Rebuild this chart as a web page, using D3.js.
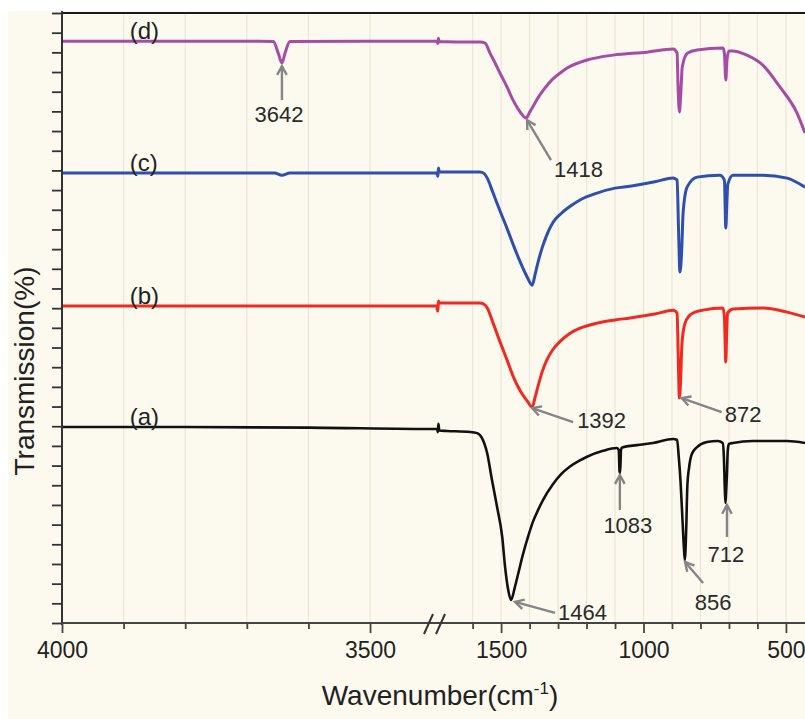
<!DOCTYPE html>
<html><head><meta charset="utf-8">
<script src="https://cdn.jsdelivr.net/npm/d3@7"></script>
<style>
body{margin:0;background:#fff}
svg{display:block}
text{font-family:"Liberation Sans",Arial,sans-serif}
</style>
</head><body>
<svg id="c" width="805" height="719"></svg>
<script>
// ---------- data ----------
const leftDomain = [4000, 3390];
const rightDomain = [1725, 433];
const majorTicksLeft = [4000, 3500];
const minorTicksLeft = [3900, 3800, 3700, 3600];
const majorTicksRight = [1500, 1000, 500];
const minorTicksRight = [1600, 1400, 1300, 1200, 1100, 900, 800, 700, 600];
const yTicks = d3.range(0, 32);

// (a) black
const seriesA = [[4000,9.96],[3800,9.96],[3600,9.93],[3390,9.86],
 [1725,9.86],[1722,9.70],[1720,10.12],[1717,9.78],[1690,9.76],[1609,9.71],[1584,9.65],[1567,9.40],[1549,8.64],[1532,7.27],[1514,5.89],[1496,4.37],[1486,2.85],[1475,1.68],[1465,1.17],[1452,1.80],[1440,2.50],[1423,3.50],[1405,4.40],[1388,5.15],[1370,5.75],[1353,6.25],[1318,7.05],[1290,7.55],[1258,7.95],[1225,8.25],[1198,8.45],[1142,8.75],[1093,8.89],[1087,8.80],[1084,7.70],[1082,7.62],[1079,8.80],[1075,8.92],[1023,9.04],[967,9.15],[896,9.35],[882,9.30],[876,8.40],[870,7.20],[864,5.50],[858,3.80],[855,3.20],[850,4.80],[846,7.00],[840,7.90],[830,8.60],[812,8.94],[777,9.20],[739,9.25],[722,9.15],[718,8.50],[714,6.60],[712,6.10],[710,6.60],[707,7.60],[704,8.80],[700,9.10],[686,9.15],[616,9.25],[496,9.25],[433,9.15]];
// (b) red
const seriesB = [[4000,16.11],[3700,16.11],[3390,16.11],
 [1725,15.96],[1722,15.85],[1720,16.36],[1717,16.26],[1650,16.26],[1574,16.26],[1560,16.20],[1549,16.02],[1528,15.24],[1504,14.30],[1479,13.36],[1458,12.55],[1433,11.80],[1409,11.30],[1391,10.98],[1380,11.50],[1370,12.05],[1355,12.80],[1340,13.35],[1318,13.90],[1290,14.35],[1260,14.70],[1223,14.98],[1163,15.24],[1100,15.40],[1047,15.50],[960,15.70],[896,15.90],[882,15.75],[878,13.50],[874,11.43],[870,12.20],[865,14.20],[855,15.20],[840,15.60],[826,15.75],[791,15.90],[721,16.01],[716,15.55],[711,13.26],[708,14.74],[705,15.75],[686,15.96],[581,16.01],[496,15.80],[433,15.55]];
// (c) blue
const seriesC = [[4000,22.87],[3700,22.87],[3655,22.87],[3643,22.76],[3630,22.87],[3390,22.87],
 [1725,22.82],[1722,22.70],[1720,23.12],[1717,22.92],[1574,22.92],[1560,22.85],[1549,22.62],[1528,21.85],[1504,20.95],[1479,20.05],[1458,19.25],[1433,18.35],[1409,17.60],[1391,17.17],[1380,17.75],[1370,18.35],[1355,19.10],[1340,19.70],[1318,20.35],[1290,20.80],[1260,21.15],[1223,21.50],[1163,21.85],[1100,22.10],[1047,22.20],[960,22.42],[896,22.62],[882,22.51],[877,20.00],[872,17.84],[866,18.90],[861,20.83],[847,22.15],[812,22.66],[732,22.76],[716,22.51],[711,20.07],[707,21.50],[704,22.30],[686,22.76],[581,22.76],[496,22.61],[433,22.15]];
// (d) purple
const seriesD = [[4000,29.57],[3800,29.57],[3680,29.57],[3657,29.55],[3649,28.96],[3643,28.46],[3638,28.96],[3630,29.55],[3500,29.57],[3390,29.57],
 [1725,29.57],[1722,29.45],[1720,29.72],[1717,29.55],[1600,29.52],[1574,29.52],[1556,29.47],[1539,28.96],[1521,28.46],[1504,27.95],[1479,27.24],[1458,26.57],[1433,25.97],[1412,25.66],[1400,25.95],[1388,26.25],[1370,26.70],[1353,27.05],[1318,27.65],[1290,27.98],[1268,28.20],[1198,28.61],[1107,28.86],[988,29.01],[896,29.17],[882,28.96],[879,27.44],[874,25.97],[869,26.93],[864,28.25],[846,28.96],[812,29.12],[721,29.22],[716,28.96],[711,27.59],[707,28.61],[700,29.07],[689,29.07],[637,28.86],[581,28.35],[521,27.24],[461,25.91],[433,24.90]];

const seriesNames = ["(a)", "(b)", "(c)", "(d)"];
const seriesColors = ["#111111", "#ee2a22", "#2f4fae", "#a64ca6"];
const seriesLabelV = [9.96, 16.11, 22.87, 29.57];

const annotations = [
 {text:"3642", wn:3643, v:28.30, dx:0,  dy:34, tx:-3, ty:22, anchor:"middle"},
 {text:"1418", wn:1409, v:25.56, dx:24, dy:40, tx:3,  ty:17, anchor:"start"},
 {text:"1392", wn:1391, v:10.92, dx:41, dy:14, tx:4,  ty:6,  anchor:"start"},
 {text:"872",  wn:866,  v:11.43, dx:40, dy:14, tx:3,  ty:10, anchor:"start"},
 {text:"1464", wn:1451, v:1.07,  dx:40, dy:11, tx:3,  ty:7,  anchor:"start"},
 {text:"1083", wn:1083, v:7.52,  dx:0,  dy:35, tx:8,  ty:23, anchor:"middle"},
 {text:"856",  wn:854,  v:3.10,  dx:18, dy:21, tx:10, ty:27, anchor:"middle"},
 {text:"712",  wn:707,  v:6.00,  dx:0,  dy:32, tx:-1, ty:25, anchor:"middle"}
];

// ---------- layout ----------
const svg = d3.select("#c");
const W = 805, H = 719;
const plotTop = 13, plotBottom = 623, plotLeft = 62;

const xL = d3.scaleLinear().domain(leftDomain).range([62, 437.8]);
const xR = d3.scaleLinear().domain(rightDomain).range([437, 805]);
const xPos = wn => wn > 2500 ? xL(wn) : xR(wn);
const y = d3.scaleLinear().domain([0, 31]).range([plotBottom, plotTop]);

svg.append("rect").attr("width", W).attr("height", H).attr("fill", "#ffffff");
svg.append("rect").attr("x", 8).attr("y", 11).attr("width", W - 8).attr("height", H - 11).attr("fill", "#fcf9ee");

// gridlines
const allTicks = [...minorTicksLeft, 3500].map(d => xL(d)).concat([...majorTicksRight, ...minorTicksRight].map(d => xR(d)));
svg.append("g").selectAll("line").data(allTicks).join("line")
  .attr("x1", d => d).attr("x2", d => d).attr("y1", plotTop).attr("y2", plotBottom)
  .attr("stroke", "#ebe6d6").attr("stroke-width", 1.2);

// series lines
const line = d3.line().x(d => xPos(d[0])).y(d => y(d[1])).curve(d3.curveMonotoneX);
[seriesA, seriesB, seriesC, seriesD].forEach((s, i) => {
  svg.append("path").datum(s).attr("d", line).attr("fill", "none")
    .attr("stroke", seriesColors[i]).attr("stroke-width", i === 0 ? 2.6 : 3)
    .attr("stroke-linejoin", "round");
});

// series labels
seriesNames.forEach((n, i) => {
  svg.append("text").attr("x", xL(3890)).attr("y", y(seriesLabelV[i]) - 2)
    .attr("font-size", 24).attr("fill", "#222").text(n);
});

// annotations
const ag = svg.append("g");
annotations.forEach(a => {
  const hx = xPos(a.wn), hy = y(a.v);
  const tx = hx + a.dx, ty = hy + a.dy;
  ag.append("line").attr("x1", hx).attr("y1", hy).attr("x2", tx).attr("y2", ty)
    .attr("stroke", "#858585").attr("stroke-width", 2.4);
  const ang = Math.atan2(ty - hy, tx - hx);
  const L = 10, sp = 0.5;
  const p1 = [hx + L * Math.cos(ang - sp), hy + L * Math.sin(ang - sp)];
  const p2 = [hx + L * Math.cos(ang + sp), hy + L * Math.sin(ang + sp)];
  ag.append("path").attr("d", `M${p1[0]},${p1[1]}L${hx},${hy}L${p2[0]},${p2[1]}`)
    .attr("fill", "none").attr("stroke", "#858585").attr("stroke-width", 2.4).attr("stroke-linejoin", "miter");
  ag.append("text").attr("x", tx + a.tx).attr("y", ty + a.ty).attr("text-anchor", a.anchor)
    .attr("font-size", 22).attr("fill", "#2a2a2a").text(a.text);
});

// top frame
svg.append("line").attr("x1", plotLeft).attr("x2", W).attr("y1", plotTop).attr("y2", plotTop)
  .attr("stroke", "#1a1a1a").attr("stroke-width", 2.2);

// y axis
const yAx = svg.append("g").attr("transform", `translate(${plotLeft},0)`)
  .call(d3.axisLeft(y).tickValues(yTicks).tickSize(10).tickSizeOuter(0).tickFormat(""));
yAx.select(".domain").remove();
yAx.selectAll(".tick line").attr("stroke", "#333").attr("stroke-width", 1.8);
svg.append("line").attr("x1", plotLeft).attr("x2", plotLeft).attr("y1", plotTop - 2).attr("y2", plotBottom + 2)
  .attr("stroke", "#333").attr("stroke-width", 2);

// x axis
const xg = svg.append("g").attr("transform", `translate(0,${plotBottom})`);
function styleAx(g){ g.select(".domain").remove(); g.selectAll(".tick line").attr("stroke","#444").attr("stroke-width",1.8); g.selectAll(".tick text").attr("font-size",23).attr("fill","#222").attr("font-family","Liberation Sans, Arial, sans-serif").attr("dy","0.55em"); }
xg.append("g").call(d3.axisBottom(xL).tickValues(majorTicksLeft).tickSize(10).tickPadding(12).tickFormat(d3.format("d"))).call(styleAx);
xg.append("g").call(d3.axisBottom(xL).tickValues(minorTicksLeft).tickSize(6).tickFormat("")).call(styleAx);
xg.append("g").call(d3.axisBottom(xR).tickValues(majorTicksRight).tickSize(10).tickPadding(12).tickFormat(d3.format("d"))).call(styleAx);
xg.append("g").call(d3.axisBottom(xR).tickValues(minorTicksRight).tickSize(6).tickFormat("")).call(styleAx);
svg.append("line").attr("x1", plotLeft).attr("x2", W).attr("y1", plotBottom).attr("y2", plotBottom)
  .attr("stroke", "#444").attr("stroke-width", 2.2);

// break marks
const bx = xR(rightDomain[0]);
[-9, 3].forEach(o => {
  svg.append("line").attr("x1", bx + o - 4).attr("y1", plotBottom + 11).attr("x2", bx + o + 5).attr("y2", plotBottom - 9)
    .attr("stroke", "#333").attr("stroke-width", 2);
});

// axis titles
const xt = svg.append("text").attr("x", 440).attr("y", 705).attr("text-anchor", "middle")
  .attr("font-size", 28).attr("fill", "#222");
xt.append("tspan").text("Wavenumber(cm");
xt.append("tspan").attr("font-size", 17).attr("dy", -11).text("-1");
xt.append("tspan").attr("dy", 11).text(")");

svg.append("text").attr("transform", "translate(34,371) rotate(-90)").attr("text-anchor", "middle")
  .attr("font-size", 28).attr("fill", "#222").text("Transmission(%)");
</script>
</body></html>
